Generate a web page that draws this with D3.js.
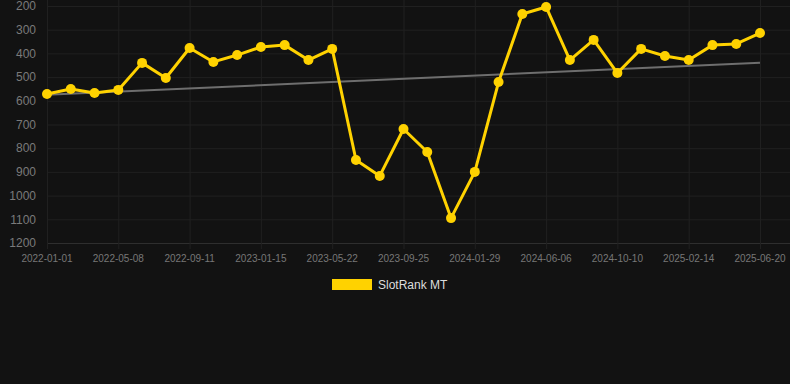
<!DOCTYPE html>
<html>
<head>
<meta charset="utf-8">
<script src="https://cdn.jsdelivr.net/npm/d3@7"></script>
<style>
  body { margin: 0; background: #121212; }
  svg { display: block; }
</style>
</head>
<body>
<svg id="chart" width="790" height="384"></svg>
<script>
// dates (category axis), a label shown every 3rd point
const dates = [
  "2022-01-01", "2022-02-12", "2022-03-26", "2022-05-08", "2022-06-19", "2022-07-31",
  "2022-09-11", "2022-10-23", "2022-12-04", "2023-01-15", "2023-02-26", "2023-04-09",
  "2023-05-22", "2023-07-03", "2023-08-14", "2023-09-25", "2023-11-06", "2023-12-18",
  "2024-01-29", "2024-03-11", "2024-04-23", "2024-06-06", "2024-07-18", "2024-08-29",
  "2024-10-10", "2024-11-21", "2025-01-02", "2025-02-14", "2025-03-28", "2025-05-09",
  "2025-06-20"
];
const rankValues = [
  571, 550, 567, 554, 440, 504, 377, 436, 407, 373, 365, 428, 381, 850, 917, 719,
  816, 1095, 900, 521, 234, 204, 428, 343, 483, 381, 411, 428, 365, 360, 314
];
const tickLabels = [
  "2022-01-01", "2022-05-08", "2022-09-11", "2023-01-15", "2023-05-22", "2023-09-25",
  "2024-01-29", "2024-06-06", "2024-10-10", "2025-02-14", "2025-06-20"
];
const yTicks = [200, 300, 400, 500, 600, 700, 800, 900, 1000, 1100, 1200];
const seriesName = "SlotRank MT";

const margin = { top: 6, right: 30, bottom: 141, left: 47 };
const width = 790, height = 384;

const svg = d3.select("#chart");

const x = d3.scalePoint()
  .domain(dates)
  .range([margin.left, width - margin.right]);

const y = d3.scaleLinear()
  .domain([200, 1200])
  .range([margin.top, height - margin.bottom]);

// grid
svg.append("g")
  .selectAll("line")
  .data(yTicks)
  .join("line")
  .attr("x1", margin.left)
  .attr("x2", width)
  .attr("y1", d => y(d) + 0.5)
  .attr("y2", d => y(d) + 0.5)
  .attr("stroke", d => d === 1200 ? "#2e2e2e" : "#202020")
  .attr("stroke-width", 1);

svg.append("g")
  .selectAll("line")
  .data(tickLabels)
  .join("line")
  .attr("x1", d => x(d) + 0.5)
  .attr("x2", d => x(d) + 0.5)
  .attr("y1", 0)
  .attr("y2", y(1200) + 6)
  .attr("stroke", "#202020");

// y labels
svg.append("g")
  .selectAll("text")
  .data(yTicks)
  .join("text")
  .attr("x", 36)
  .attr("y", d => y(d))
  .attr("dy", "0.35em")
  .attr("text-anchor", "end")
  .attr("font-family", "Arial, 'Liberation Sans', sans-serif")
  .attr("font-size", 12)
  .attr("fill", "#7a7a7a")
  .text(d => d);

// x labels
svg.append("g")
  .selectAll("text")
  .data(tickLabels)
  .join("text")
  .attr("x", d => x(d))
  .attr("y", 262)
  .attr("text-anchor", "middle")
  .attr("font-family", "Arial, 'Liberation Sans', sans-serif")
  .attr("font-size", 10)
  .attr("fill", "#777")
  .text(d => d);

// trend line (least squares over the series)
const n = rankValues.length;
const idx = d3.range(n);
const mx = d3.mean(idx), my = d3.mean(rankValues);
const slope = d3.sum(idx, i => (i - mx) * (rankValues[i] - my)) / d3.sum(idx, i => (i - mx) ** 2);
const intercept = my - slope * mx;

svg.append("line")
  .attr("x1", x(dates[0]))
  .attr("y1", y(intercept))
  .attr("x2", x(dates[n - 1]))
  .attr("y2", y(intercept + slope * (n - 1)))
  .attr("stroke", "#6e6e6e")
  .attr("stroke-width", 2);

// series
const data = dates.map((d, i) => ({ date: d, value: rankValues[i] }));

svg.append("path")
  .datum(data)
  .attr("fill", "none")
  .attr("stroke", "#ffd200")
  .attr("stroke-width", 3)
  .attr("stroke-linejoin", "round")
  .attr("d", d3.line().x(d => x(d.date)).y(d => y(d.value)));

svg.append("g")
  .selectAll("circle")
  .data(data)
  .join("circle")
  .attr("cx", d => x(d.date))
  .attr("cy", d => y(d.value))
  .attr("r", 5)
  .attr("fill", "#ffd200");

// legend
const legend = svg.append("g").attr("transform", "translate(332, 279)");
legend.append("rect")
  .attr("width", 40)
  .attr("height", 11)
  .attr("fill", "#ffd200");
legend.append("text")
  .attr("x", 46)
  .attr("y", 10)
  .attr("font-family", "Arial, 'Liberation Sans', sans-serif")
  .attr("font-size", 12)
  .attr("fill", "#dddddd")
  .text(seriesName);
</script>
</body>
</html>
